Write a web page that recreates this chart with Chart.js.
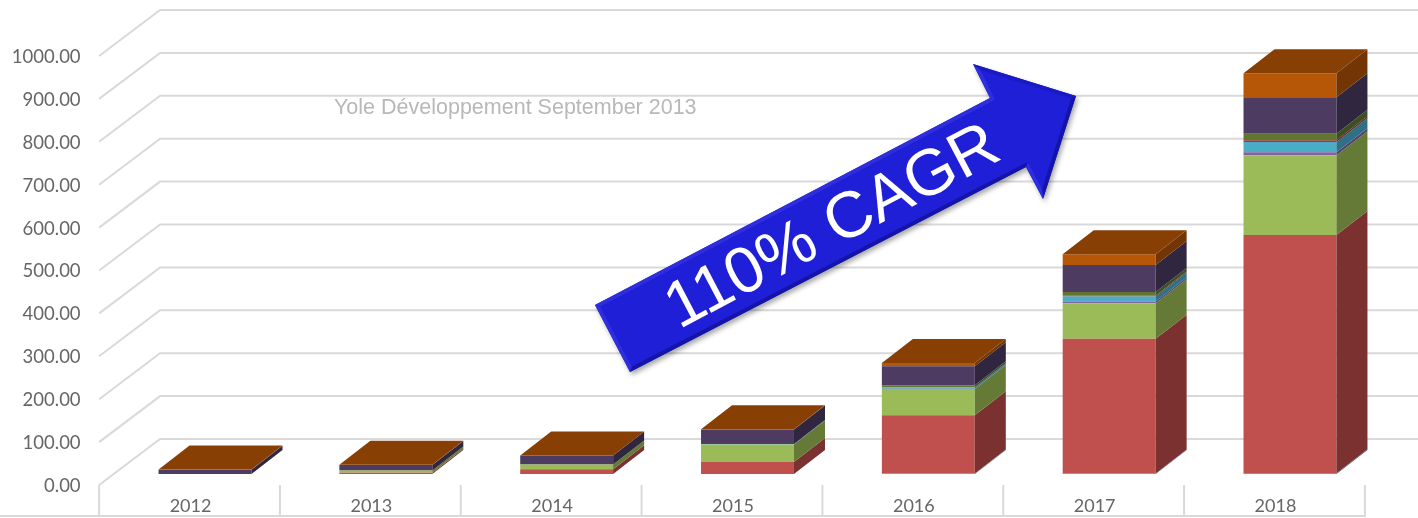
<!DOCTYPE html>
<html>
<head>
<meta charset="utf-8">
<script src="https://cdn.jsdelivr.net/npm/chart.js@4"></script>
<style>
  html, body { margin: 0; padding: 0; background: #fff; }
  #wrap { width: 1418px; height: 518px; }
  /* the reference is a soft, upscaled picture */
  #chart { filter: blur(0.4px); }
</style>
</head>
<body>
<div id="wrap"><canvas id="chart" width="1418" height="518"></canvas></div>
<script>
// values, bottom of the stack first
const years = ['2012', '2013', '2014', '2015', '2016', '2017', '2018'];
const blueValues = [0, 0, 0, 0, 1, 1, 2];
const redValues = [0, 3, 11, 28, 136, 314, 555];
const greenValues = [0, 5, 11, 41, 61, 83, 186];
const purpleValues = [0, 0, 0, 0, 1, 4, 7];
const tealValues = [0, 0, 0, 1, 3, 12, 24];
const darkRedValues = [0, 0, 0, 0, 0, 2, 4];
const darkGreenValues = [0, 0, 0, 0, 5, 8, 15];
const plumValues = [10, 13, 21, 34, 44, 63, 85];
const orangeValues = [0.3, 0.3, 0.3, 0.3, 8, 25, 56];
const yTicks = [0, 100, 200, 300, 400, 500, 600, 700, 800, 900, 1000];

const seriesValues = [blueValues, redValues, greenValues, purpleValues, tealValues,
    darkRedValues, darkGreenValues, plumValues, orangeValues];
const frontColors = ['#4f81bd', '#c0504d', '#9bbb59', '#8064a2', '#4bacc6', '#9a3a36', '#5f7530', '#4d3b62', '#b65708'];
const sideColors = ['#31506f', '#7b3130', '#667a37', '#54426b', '#2e7186', '#642523', '#3f4e20', '#30263f', '#733503'];
const topColor = '#873f04';

// 3D look
const barDx = 31, barDy = 24;      // depth of a bar
const wallDx = 61, wallBack = 35, wallFront = 11;
const gridColor = '#d9d9d9';

// side + top faces of the bars, from the bar elements themselves
const barDepth = {
    id: 'barDepth',
    afterDatasetsDraw(chart) {
        const ctx = chart.ctx;
        chart.data.datasets.forEach((ds, d) => {
            chart.getDatasetMeta(d).data.forEach((bar, i) => {
                if (!seriesValues[d][i]) return;
                const r = bar.x + bar.width / 2;
                ctx.fillStyle = sideColors[d];
                ctx.beginPath();
                ctx.moveTo(r, bar.base);
                ctx.lineTo(r + barDx, bar.base - barDy);
                ctx.lineTo(r + barDx, bar.y - barDy);
                ctx.lineTo(r, bar.y);
                ctx.closePath();
                ctx.fill();
            });
        });
        const last = chart.getDatasetMeta(chart.data.datasets.length - 1);
        last.data.forEach(bar => {
            const l = bar.x - bar.width / 2, r = bar.x + bar.width / 2;
            ctx.fillStyle = topColor;
            ctx.beginPath();
            ctx.moveTo(l, bar.y);
            ctx.lineTo(l + barDx, bar.y - barDy);
            ctx.lineTo(r + barDx, bar.y - barDy);
            ctx.lineTo(r, bar.y);
            ctx.closePath();
            ctx.fill();
        });
    }
};

// back wall, side wall and the boxes under the category labels
const walls = {
    id: 'walls',
    beforeDatasetsDraw(chart) {
        const ctx = chart.ctx, y = chart.scales.y, x = chart.scales.x;
        const pitch = x.getPixelForTick(1) - x.getPixelForTick(0);
        const wallX = x.left - 15.5;
        ctx.save();
        ctx.strokeStyle = gridColor;
        ctx.lineWidth = 2;
        yTicks.forEach(v => {
            const py = y.getPixelForValue(v);
            ctx.beginPath();
            ctx.moveTo(wallX, py + wallFront);
            ctx.lineTo(wallX + wallDx, py - wallBack);
            ctx.lineTo(1418, py - wallBack);
            ctx.stroke();
        });
        const py0 = y.getPixelForValue(0) + wallFront;
        years.concat('end').forEach((_, i) => {
            ctx.beginPath();
            ctx.moveTo(wallX + pitch * i, py0);
            ctx.lineTo(wallX + pitch * i, 517);
            ctx.stroke();
        });
        ctx.beginPath();
        ctx.moveTo(0, 516);
        ctx.lineTo(wallX + pitch * years.length, 516);
        ctx.stroke();
        ctx.restore();
    }
};

// arrow outline, used only for the annotation
const arrowPts = [[595, 305], [990, 98], [973, 64], [1076, 96], [1043, 199], [1026, 167], [630, 372]];
const bevel = 4;

function insetArrow(pts, d) {
    const n = pts.length;
    return pts.map((p, i) => {
        const a = pts[(i + n - 1) % n], b = pts[(i + 1) % n];
        const la = Math.hypot(p[0] - a[0], p[1] - a[1]), lb = Math.hypot(b[0] - p[0], b[1] - p[1]);
        const n1 = [-(p[1] - a[1]) / la, (p[0] - a[0]) / la];
        const n2 = [-(b[1] - p[1]) / lb, (b[0] - p[0]) / lb];
        const k = d / (1 + n1[0] * n2[0] + n1[1] * n2[1]);
        return [p[0] + (n1[0] + n2[0]) * k, p[1] + (n1[1] + n2[1]) * k];
    });
}

function tracePoly(ctx, pts) {
    ctx.beginPath();
    pts.forEach((p, i) => i ? ctx.lineTo(p[0], p[1]) : ctx.moveTo(p[0], p[1]));
    ctx.closePath();
}

const notes = {
    id: 'notes',
    afterDraw(chart) {
        const ctx = chart.ctx;
        ctx.save();
        ctx.fillStyle = '#b8b8b8';
        ctx.font = '21.5px "Liberation Sans"';
        ctx.textAlign = 'left';
        ctx.textBaseline = 'alphabetic';
        ctx.fillText('Yole Développement September 2013', 334, 114);

        ctx.save();
        ctx.shadowColor = 'rgba(0,0,0,0.35)';
        ctx.shadowBlur = 5;
        ctx.shadowOffsetX = 2;
        ctx.shadowOffsetY = 3;
        ctx.fillStyle = '#1f1fd8';
        tracePoly(ctx, arrowPts);
        ctx.fill();
        ctx.restore();

        const inner = insetArrow(arrowPts, bevel);
        const n = arrowPts.length;
        arrowPts.forEach((p, i) => {
            const j = (i + 1) % n, q = arrowPts[j];
            const len = Math.hypot(q[0] - p[0], q[1] - p[1]);
            const light = (q[0] - p[0]) / len * -0.5 + (q[1] - p[1]) / len * 0.85;
            ctx.fillStyle = light < -0.25 ? '#2e2edd' : (light > 0.25 ? '#1414a8' : '#1a1ac4');
            tracePoly(ctx, [p, q, inner[j], inner[i]]);
            ctx.fill();
        });
        ctx.fillStyle = '#1f1fd8';
        tracePoly(ctx, inner);
        ctx.fill();

        ctx.translate(833, 228);
        ctx.rotate(-27.8 * Math.PI / 180);
        ctx.fillStyle = '#ffffff';
        ctx.font = '65px "Liberation Sans"';
        ctx.textAlign = 'center';
        ctx.textBaseline = 'middle';
        ctx.fillText('110% CAGR', 0, 0);
        ctx.restore();
    }
};

new Chart(document.getElementById('chart').getContext('2d'), {
    type: 'bar',
    data: {
        labels: years,
        datasets: seriesValues.map((vals, i) => ({
            data: vals,
            backgroundColor: frontColors[i],
            borderWidth: 0,
            barPercentage: 0.514,
            categoryPercentage: 1
        }))
    },
    options: {
        responsive: false,
        animation: false,
        layout: { padding: { left: 0, right: 37.6, top: 45, bottom: 0 } },
        plugins: { legend: { display: false }, tooltip: { enabled: false } },
        scales: {
            x: {
                stacked: true,
                grid: { display: false, drawTicks: false },
                border: { display: false },
                afterFit(scale) { scale.height = 44; },
                ticks: {
                    color: '#666666',
                    font: { family: 'Lato', size: 18 },
                    padding: 21.5,
                    labelOffset: -14.5,
                    maxRotation: 0
                }
            },
            y: {
                stacked: true,
                min: 0,
                max: 1000,
                grid: { display: false, drawTicks: false },
                border: { display: false },
                afterFit(scale) {
                    scale.width = 114.6;
                    // tick padding would otherwise eat into the plot height
                    scale.paddingTop = 0;
                    scale.paddingBottom = 0;
                },
                afterBuildTicks(scale) { scale.ticks = yTicks.map(v => ({ value: v })); },
                ticks: {
                    color: '#666666',
                    font: { family: 'Lato', size: 18.5 },
                    padding: 34,
                    labelOffset: 12,
                    callback: v => v.toFixed(2)
                }
            }
        }
    },
    plugins: [walls, barDepth, notes]
});
</script>
</body>
</html>
